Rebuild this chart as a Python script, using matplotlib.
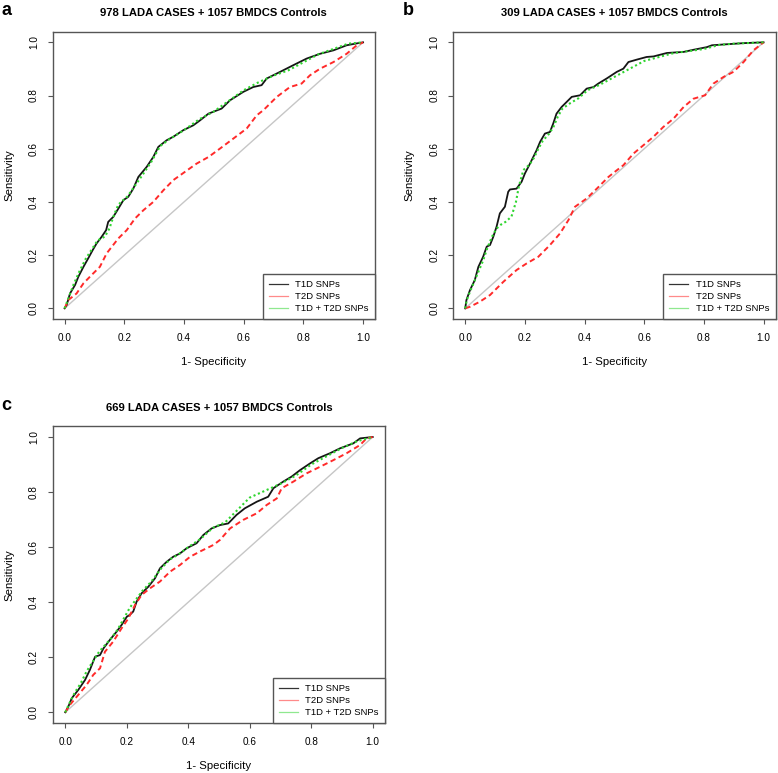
import matplotlib
matplotlib.use("Agg")
import matplotlib.pyplot as plt
from matplotlib.lines import Line2D

plt.rcParams['font.family'] = ['Liberation Sans', 'DejaVu Sans']

# ---- data (1 - specificity, sensitivity) ----
series_names = ["T1D SNPs", "T2D SNPs", "T1D + T2D SNPs"]
panel_letters = ["a", "b", "c"]
panel_titles = ["978 LADA CASES + 1057 BMDCS Controls",
                "309 LADA CASES + 1057 BMDCS Controls",
                "669 LADA CASES + 1057 BMDCS Controls"]
ticks = [0.0, 0.2, 0.4, 0.6, 0.8, 1.0]

# panel a
a_t1d_x = [0, 0.007, 0.018, 0.035, 0.046, 0.063, 0.079, 0.094, 0.107, 0.124, 0.139, 0.146,
           0.163, 0.180, 0.197, 0.213, 0.230, 0.247, 0.275, 0.297, 0.314, 0.342, 0.364, 0.398,
           0.431, 0.454, 0.482, 0.526, 0.554, 0.599, 0.632, 0.660, 0.677, 0.722, 0.766, 0.811,
           0.856, 0.901, 0.945, 0.979, 1.0]
a_t1d_y = [0, 0.013, 0.056, 0.088, 0.119, 0.156, 0.188, 0.219, 0.244, 0.269, 0.294, 0.325,
           0.344, 0.375, 0.407, 0.419, 0.450, 0.494, 0.532, 0.569, 0.607, 0.632, 0.645, 0.670,
           0.688, 0.707, 0.732, 0.751, 0.782, 0.814, 0.832, 0.839, 0.864, 0.889, 0.914, 0.939,
           0.957, 0.970, 0.989, 0.996, 1.0]
a_t2d_x = [0, 0.012, 0.040, 0.063, 0.090, 0.118, 0.141, 0.180, 0.208, 0.236, 0.264, 0.297,
           0.331, 0.364, 0.403, 0.442, 0.482, 0.521, 0.565, 0.610, 0.644, 0.666, 0.711, 0.755,
           0.794, 0.822, 0.856, 0.901, 0.945, 0.979, 1.0]
a_t2d_y = [0, 0.031, 0.056, 0.094, 0.125, 0.156, 0.207, 0.263, 0.294, 0.338, 0.369, 0.400,
           0.444, 0.482, 0.513, 0.544, 0.569, 0.601, 0.638, 0.676, 0.726, 0.745, 0.795, 0.832,
           0.845, 0.876, 0.901, 0.926, 0.957, 0.989, 1.0]
a_both_x = [0, 0.01, 0.03, 0.05, 0.07, 0.09, 0.11, 0.135, 0.15, 0.165, 0.18, 0.21, 0.235,
            0.26, 0.29, 0.32, 0.35, 0.40, 0.45, 0.50, 0.55, 0.60, 0.65, 0.70, 0.75, 0.80,
            0.85, 0.90, 0.95, 1.0]
a_both_y = [0, 0.03, 0.09, 0.14, 0.185, 0.22, 0.255, 0.27, 0.30, 0.35, 0.39, 0.42, 0.46,
            0.50, 0.55, 0.61, 0.635, 0.67, 0.71, 0.74, 0.78, 0.82, 0.85, 0.875, 0.895, 0.925,
            0.955, 0.975, 0.995, 1.0]

# panel b
b_t1d_x = [0, 0.004, 0.016, 0.032, 0.044, 0.060, 0.072, 0.083, 0.094, 0.105, 0.116, 0.133,
           0.144, 0.150, 0.172, 0.189, 0.200, 0.217, 0.228, 0.239, 0.251, 0.267, 0.284, 0.295,
           0.306, 0.323, 0.340, 0.357, 0.385, 0.407, 0.430, 0.446, 0.474, 0.508, 0.530, 0.547,
           0.575, 0.608, 0.631, 0.676, 0.732, 0.765, 0.810, 0.827, 0.866, 0.933, 1.0]
b_t1d_y = [0, 0.031, 0.069, 0.106, 0.156, 0.194, 0.232, 0.238, 0.269, 0.307, 0.357, 0.382,
           0.438, 0.447, 0.450, 0.476, 0.507, 0.544, 0.569, 0.594, 0.626, 0.657, 0.663, 0.695,
           0.732, 0.757, 0.776, 0.795, 0.801, 0.826, 0.832, 0.845, 0.864, 0.889, 0.901, 0.926,
           0.935, 0.945, 0.947, 0.960, 0.964, 0.972, 0.982, 0.989, 0.992, 0.997, 1.0]
b_t2d_x = [0, 0.016, 0.049, 0.083, 0.128, 0.172, 0.206, 0.245, 0.284, 0.318, 0.346, 0.368,
           0.407, 0.441, 0.480, 0.508, 0.530, 0.564, 0.597, 0.631, 0.664, 0.698, 0.732, 0.765,
           0.804, 0.832, 0.866, 0.899, 0.933, 0.966, 1.0]
b_t2d_y = [0, 0.006, 0.025, 0.050, 0.100, 0.144, 0.169, 0.194, 0.238, 0.282, 0.332, 0.382,
           0.413, 0.450, 0.494, 0.519, 0.538, 0.582, 0.613, 0.645, 0.682, 0.713, 0.757, 0.788,
           0.801, 0.845, 0.870, 0.889, 0.926, 0.970, 1.0]
b_both_x = [0, 0.005, 0.015, 0.03, 0.045, 0.06, 0.075, 0.09, 0.105, 0.12, 0.135, 0.155,
            0.17, 0.18, 0.195, 0.215, 0.23, 0.245, 0.26, 0.28, 0.295, 0.31, 0.325, 0.35,
            0.38, 0.41, 0.45, 0.50, 0.55, 0.60, 0.65, 0.70, 0.75, 0.80, 0.85, 0.90, 1.0]
b_both_y = [0, 0.03, 0.06, 0.10, 0.14, 0.18, 0.23, 0.27, 0.30, 0.315, 0.325, 0.345,
            0.40, 0.46, 0.52, 0.54, 0.565, 0.60, 0.63, 0.655, 0.68, 0.72, 0.75, 0.77,
            0.79, 0.82, 0.84, 0.87, 0.90, 0.93, 0.945, 0.96, 0.967, 0.975, 0.99, 0.995, 1.0]

# panel c
c_t1d_x = [0, 0.010, 0.021, 0.042, 0.064, 0.080, 0.097, 0.113, 0.124, 0.145, 0.167, 0.183,
           0.200, 0.210, 0.221, 0.232, 0.248, 0.270, 0.292, 0.308, 0.330, 0.351, 0.373, 0.395,
           0.427, 0.449, 0.476, 0.503, 0.530, 0.557, 0.584, 0.623, 0.660, 0.677, 0.709, 0.736,
           0.764, 0.796, 0.823, 0.861, 0.894, 0.937, 0.959, 1.0]
c_t1d_y = [0, 0.021, 0.051, 0.081, 0.117, 0.154, 0.202, 0.208, 0.232, 0.263, 0.293, 0.317,
           0.347, 0.354, 0.366, 0.402, 0.432, 0.456, 0.487, 0.523, 0.547, 0.565, 0.577, 0.596,
           0.614, 0.644, 0.668, 0.680, 0.686, 0.717, 0.741, 0.765, 0.783, 0.814, 0.838, 0.856,
           0.880, 0.904, 0.923, 0.941, 0.959, 0.977, 0.995, 1.0]
c_t2d_x = [0, 0.015, 0.042, 0.069, 0.091, 0.113, 0.129, 0.156, 0.183, 0.205, 0.227, 0.248,
           0.275, 0.308, 0.341, 0.373, 0.406, 0.438, 0.482, 0.503, 0.536, 0.579, 0.623, 0.655,
           0.688, 0.704, 0.742, 0.785, 0.829, 0.872, 0.915, 0.959, 0.980, 1.0]
c_t2d_y = [0, 0.027, 0.063, 0.099, 0.136, 0.160, 0.220, 0.257, 0.305, 0.341, 0.390, 0.426,
           0.450, 0.475, 0.511, 0.535, 0.565, 0.584, 0.608, 0.626, 0.668, 0.699, 0.723, 0.753,
           0.777, 0.814, 0.838, 0.868, 0.892, 0.916, 0.941, 0.971, 0.995, 1.0]
c_both_x = [0, 0.01, 0.03, 0.05, 0.07, 0.09, 0.11, 0.13, 0.15, 0.17, 0.19, 0.21, 0.23,
            0.25, 0.28, 0.31, 0.34, 0.37, 0.40, 0.44, 0.48, 0.52, 0.56, 0.60, 0.65, 0.70,
            0.75, 0.80, 0.85, 0.90, 0.95, 1.0]
c_both_y = [0, 0.025, 0.07, 0.105, 0.15, 0.185, 0.22, 0.245, 0.27, 0.30, 0.34, 0.38, 0.41,
            0.44, 0.475, 0.52, 0.555, 0.575, 0.60, 0.63, 0.67, 0.69, 0.735, 0.78, 0.805, 0.83,
            0.86, 0.90, 0.93, 0.96, 0.985, 1.0]

panels = [
    [(a_t1d_x, a_t1d_y), (a_t2d_x, a_t2d_y), (a_both_x, a_both_y)],
    [(b_t1d_x, b_t1d_y), (b_t2d_x, b_t2d_y), (b_both_x, b_both_y)],
    [(c_t1d_x, c_t1d_y), (c_t2d_x, c_t2d_y), (c_both_x, c_both_y)],
]

W, H = 778, 773
fig = plt.figure(figsize=(W / 100, H / 100), dpi=100)

def fx(px):
    return px / W

def fy(py):
    return 1 - py / H

# axes boxes in pixels: left, top, right, bottom
boxes = [(52.7, 31.7, 375.0, 319.0),
         (453.3, 31.7, 775.5, 319.0),
         (53.0, 426.0, 385.0, 723.3)]

line_styles = [dict(color="#151515", lw=1.3, ls="-"),
               dict(color="#ff2a2a", lw=1.4, dashes=(2.8, 1.8)),
               dict(color="#2fd52f", lw=1.5, dashes=(1.0, 1.3))]
legend_cols = ["#333333", "#ff8a8a", "#8fe88f"]
edge = "#555555"

for i, (l, t, r, b) in enumerate(boxes):
    ax = fig.add_axes([fx(l), fy(b), fx(r - l), (b - t) / H])
    ax.plot([0, 1], [0, 1], color="#c6c6c6", lw=1.0)
    for (xs, ys), st in zip(panels[i], line_styles):
        ax.plot(xs, ys, **st)
    ax.set_xlim(-0.04, 1.04)
    ax.set_ylim(-0.04, 1.04)
    ax.set_xticks(ticks)
    ax.set_yticks(ticks)
    ax.set_xticklabels([f"{v:.1f}" for v in ticks])
    ax.set_yticklabels([f"{v:.1f}" for v in ticks], rotation=90, va="center")
    ax.tick_params(length=3.5, width=0.8, color=edge, labelsize=7.2, pad=6.5)
    for sp in ax.spines.values():
        sp.set_color(edge)
        sp.set_linewidth(1.0)

    handles = [Line2D([], [], color=c, lw=0.9) for c in legend_cols]
    leg = ax.legend(handles, series_names, loc="lower right", fontsize=6.8,
                    borderaxespad=0, fancybox=False, framealpha=1,
                    handlelength=2.0, handletextpad=0.8, labelspacing=0.3,
                    borderpad=0.65)
    leg.get_frame().set_edgecolor(edge)
    leg.get_frame().set_linewidth(1.0)

    cx = (l + r) / 2
    cy = (t + b) / 2
    title_base = t - 15.2
    fig.text(fx(cx), fy(title_base), panel_titles[i], ha="center", va="baseline",
             fontsize=8.1, fontweight="bold")
    fig.text(fx(cx), fy(b + 46), "1- Specificity", ha="center", va="baseline", fontsize=8.2)
    fig.text(fx(l - 43.5), fy(cy), "Sensitivity", ha="center", va="center",
             rotation=90, fontsize=8.2)

fig.text(fx(1), fy(15), panel_letters[0], ha="left", va="baseline", fontsize=13, fontweight="bold")
fig.text(fx(403), fy(15), panel_letters[1], ha="left", va="baseline", fontsize=13, fontweight="bold")
fig.text(fx(1), fy(410), panel_letters[2], ha="left", va="baseline", fontsize=13, fontweight="bold")

fig.savefig("out.png", dpi=100, facecolor="white")
